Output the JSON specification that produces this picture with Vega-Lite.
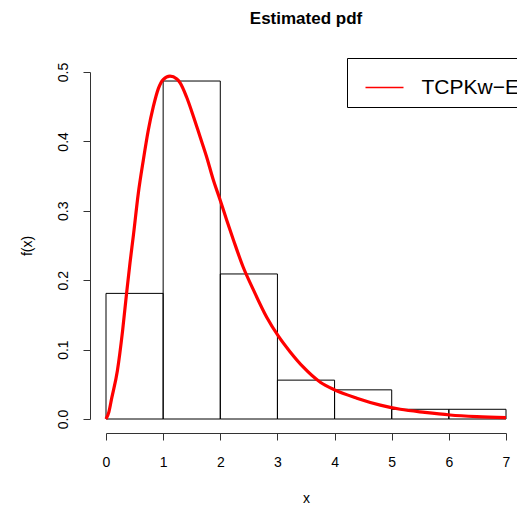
{
  "$schema": "https://vega.github.io/schema/vega-lite/v6.json",
  "autosize": "none",
  "padding": {"left": 106, "top": 72, "right": 11, "bottom": 90},
  "width": 400,
  "height": 347,
  "background": "white",
  "title": {
    "text": "Estimated pdf",
    "font": "Liberation Sans",
    "fontSize": 17,
    "fontWeight": "bold",
    "color": "black",
    "anchor": "middle",
    "frame": "group",
    "baseline": "alphabetic",
    "offset": 17
  },
  "config": {
    "view": {"stroke": null},
    "font": "Liberation Sans",
    "axis": {
      "domainColor": "#333",
      "tickColor": "#333",
      "tickSize": 7,
      "labelFont": "Liberation Sans",
      "labelFontSize": 14,
      "labelColor": "black",
      "titleFont": "Liberation Sans",
      "titleFontSize": 14,
      "titleFontWeight": "normal",
      "titleColor": "black",
      "grid": false
    }
  },
  "layer": [
    {
      "data": {
        "values": [
          {"x": 0, "x_end": 1, "fx": 0.181},
          {"x": 1, "x_end": 2, "fx": 0.487},
          {"x": 2, "x_end": 3, "fx": 0.209},
          {"x": 3, "x_end": 4, "fx": 0.056},
          {"x": 4, "x_end": 5, "fx": 0.042},
          {"x": 5, "x_end": 6, "fx": 0.014},
          {"x": 6, "x_end": 7, "fx": 0.014}
        ]
      },
      "mark": {"type": "rect", "fill": "transparent", "stroke": "black", "strokeWidth": 1},
      "encoding": {
        "x": {
          "field": "x", "type": "quantitative",
          "scale": {"domain": [0, 7], "nice": false, "zero": false},
          "axis": {"values": [0, 1, 2, 3, 4, 5, 6, 7], "format": "d", "title": "x", "offset": 14, "labelPadding": 15, "titlePadding": 22, "labelFlush": false}
        },
        "x2": {"field": "x_end"},
        "y": {
          "field": "fx", "type": "quantitative",
          "scale": {"domain": [0, 0.5], "nice": false},
          "axis": {"values": [0, 0.1, 0.2, 0.3, 0.4, 0.5], "format": ".1f", "title": "f(x)", "offset": 16, "labelAngle": -90, "labelAlign": "center", "labelBaseline": "bottom", "labelPadding": 13, "titlePadding": 22, "labelFlush": false}
        },
        "y2": {"datum": 0}
      }
    },
    {
      "data": {
        "values": [
          {"x": 0, "fx": 0, "series": "TCPKw−E"},
          {"x": 0.05, "fx": 0.01, "series": "TCPKw−E"},
          {"x": 0.1, "fx": 0.03, "series": "TCPKw−E"},
          {"x": 0.2, "fx": 0.07, "series": "TCPKw−E"},
          {"x": 0.29, "fx": 0.127, "series": "TCPKw−E"},
          {"x": 0.36, "fx": 0.181, "series": "TCPKw−E"},
          {"x": 0.42, "fx": 0.225, "series": "TCPKw−E"},
          {"x": 0.48, "fx": 0.265, "series": "TCPKw−E"},
          {"x": 0.565, "fx": 0.325, "series": "TCPKw−E"},
          {"x": 0.653, "fx": 0.373, "series": "TCPKw−E"},
          {"x": 0.74, "fx": 0.416, "series": "TCPKw−E"},
          {"x": 0.828, "fx": 0.45, "series": "TCPKw−E"},
          {"x": 0.916, "fx": 0.476, "series": "TCPKw−E"},
          {"x": 1.0, "fx": 0.489, "series": "TCPKw−E"},
          {"x": 1.12, "fx": 0.494, "series": "TCPKw−E"},
          {"x": 1.24, "fx": 0.49, "series": "TCPKw−E"},
          {"x": 1.3, "fx": 0.484, "series": "TCPKw−E"},
          {"x": 1.41, "fx": 0.464, "series": "TCPKw−E"},
          {"x": 1.53, "fx": 0.436, "series": "TCPKw−E"},
          {"x": 1.645, "fx": 0.407, "series": "TCPKw−E"},
          {"x": 1.76, "fx": 0.378, "series": "TCPKw−E"},
          {"x": 1.88, "fx": 0.344, "series": "TCPKw−E"},
          {"x": 2.0, "fx": 0.315, "series": "TCPKw−E"},
          {"x": 2.11, "fx": 0.287, "series": "TCPKw−E"},
          {"x": 2.23, "fx": 0.258, "series": "TCPKw−E"},
          {"x": 2.4, "fx": 0.219, "series": "TCPKw−E"},
          {"x": 2.58, "fx": 0.186, "series": "TCPKw−E"},
          {"x": 2.81, "fx": 0.147, "series": "TCPKw−E"},
          {"x": 3.02, "fx": 0.119, "series": "TCPKw−E"},
          {"x": 3.22, "fx": 0.097, "series": "TCPKw−E"},
          {"x": 3.45, "fx": 0.075, "series": "TCPKw−E"},
          {"x": 3.75, "fx": 0.053, "series": "TCPKw−E"},
          {"x": 4.0, "fx": 0.042, "series": "TCPKw−E"},
          {"x": 4.39, "fx": 0.03, "series": "TCPKw−E"},
          {"x": 4.8, "fx": 0.02, "series": "TCPKw−E"},
          {"x": 5.15, "fx": 0.014, "series": "TCPKw−E"},
          {"x": 5.58, "fx": 0.0095, "series": "TCPKw−E"},
          {"x": 6.02, "fx": 0.0058, "series": "TCPKw−E"},
          {"x": 6.49, "fx": 0.0035, "series": "TCPKw−E"},
          {"x": 7.0, "fx": 0.002, "series": "TCPKw−E"}
        ]
      },
      "mark": {"type": "line", "strokeWidth": 3.2, "interpolate": "monotone"},
      "encoding": {
        "x": {"field": "x", "type": "quantitative"},
        "y": {"field": "fx", "type": "quantitative"},
        "color": {
          "field": "series", "type": "nominal",
          "scale": {"domain": ["TCPKw−E"], "range": ["#ff0000"]},
          "legend": {
            "orient": "none", "legendX": 241, "legendY": -14,
            "title": null,
            "symbolType": "stroke", "symbolSize": 1444, "symbolStrokeWidth": 1.3,
            "labelFont": "Liberation Sans", "labelFontSize": 21, "labelColor": "black",
            "labelOffset": 17, "symbolOffset": 8,
            "strokeColor": "black", "fillColor": "white", "padding": 9.5, "cornerRadius": 0
          }
        }
      }
    }
  ]
}
